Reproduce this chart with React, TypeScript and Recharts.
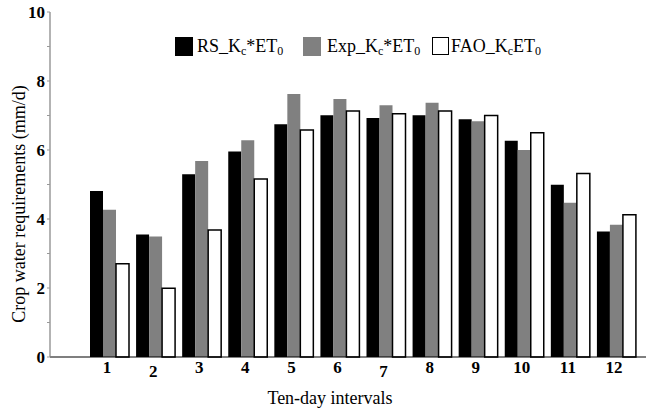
import React from "react";
import { BarChart, Bar, XAxis, YAxis, Label } from "recharts";

const intervals = ["1", "2", "3", "4", "5", "6", "7", "8", "9", "10", "11", "12"];
const rsKcEt0 = [4.81, 3.55, 5.3, 5.96, 6.75, 7.01, 6.93, 7.01, 6.89, 6.27, 4.99, 3.64];
const expKcEt0 = [4.27, 3.49, 5.68, 6.28, 7.62, 7.48, 7.3, 7.37, 6.83, 6.0, 4.47, 3.83];
const faoKcEt0 = [2.7, 1.99, 3.68, 5.16, 6.58, 7.13, 7.05, 7.13, 7.0, 6.5, 5.32, 4.12];
const yTicks = [0, 1, 2, 3, 4, 5, 6, 7, 8, 9, 10];
const topTicks = [1, 2, 3, 4, 5, 6, 7, 8, 9, 10, 11, 12];

const data = intervals.map((interval, i) => ({
  interval,
  rs: rsKcEt0[i],
  exp: expKcEt0[i],
  fao: faoKcEt0[i],
}));

const serif = "'Liberation Serif', 'Times New Roman', serif";

// a few labels sit a bit lower in the original
const labelDrop: Record<string, number> = { "2": 4, "7": 4 };

function XTick({ x, y, payload }: any) {
  const v = String(payload.value);
  return (
    <text
      x={x - 2}
      y={y + 16 + (labelDrop[v] || 0)}
      textAnchor="middle"
      fontFamily={serif}
      fontWeight="bold"
      fontSize={17}
      fill="#000"
    >
      {v}
    </text>
  );
}

function YTick({ x, y, payload }: any) {
  if (payload.value % 2 !== 0) return <g />;
  return (
    <text
      x={x}
      y={y + 6}
      textAnchor="end"
      fontFamily={serif}
      fontWeight="bold"
      fontSize={17}
      fill="#000"
    >
      {payload.value}
    </text>
  );
}

function LegendSwatch({ left, color, outline }: { left: number; color: string; outline?: boolean }) {
  return (
    <div
      style={{
        position: "absolute",
        left,
        top: 37,
        width: outline ? 15 : 18,
        height: outline ? 16 : 19,
        background: color,
        border: outline ? "1.5px solid #000" : "none",
      }}
    />
  );
}

const subStyle: React.CSSProperties = { fontSize: 12, verticalAlign: "-3px", lineHeight: 1 };

function LegendText({ left, prefix, mid }: { left: number; prefix: string; mid: string }) {
  return (
    <div
      style={{
        position: "absolute",
        left,
        top: 36,
        fontFamily: serif,
        fontSize: 18,
        lineHeight: "20px",
        color: "#000",
        whiteSpace: "nowrap",
      }}
    >
      {prefix}
      <span style={subStyle}>c</span>
      {mid}
      <span style={subStyle}>0</span>
    </div>
  );
}

export default function App() {
  return (
    <div
      style={{
        position: "absolute",
        left: 0,
        top: 0,
        width: 646,
        height: 415,
        overflow: "hidden",
        background: "#fff",
      }}
    >
      <BarChart
        width={649}
        height={415}
        data={data}
        margin={{ top: 12, right: 0, left: 0, bottom: 0 }}
        barGap={0}
        barSize={13}
      >
        <XAxis
          xAxisId="cat"
          dataKey="interval"
          height={58}
          padding={{ left: 36, right: 10 }}
          axisLine={{ stroke: "#000", strokeWidth: 1.2 }}
          tickLine={false}
          tickSize={0}
          tickMargin={0}
          interval={0}
          tick={<XTick />}
        >
          <Label
            content={() => (
              <text x={330} y={404} textAnchor="middle" fontFamily={serif} fontSize={18} fill="#000">
                Ten-day intervals
              </text>
            )}
          />
        </XAxis>
        <XAxis
          xAxisId="top"
          orientation="top"
          type="number"
          domain={[0, 13]}
          allowDataOverflow
          ticks={topTicks}
          height={0}
          mirror
          tickSize={3}
          axisLine={{ stroke: "#222", strokeWidth: 1.2 }}
          tickLine={{ stroke: "#222" }}
          tick={() => <g />}
        />
        <YAxis
          domain={[0, 10]}
          ticks={yTicks}
          interval={0}
          width={50}
          tickSize={3}
          tickMargin={2}
          axisLine={{ stroke: "#808080", strokeWidth: 1.2 }}
          tickLine={{ stroke: "#999" }}
          tick={<YTick />}
        >
          <Label
            content={() => (
              <text
                x={19}
                y={204}
                transform="rotate(-90 19 204)"
                textAnchor="middle"
                dominantBaseline="central"
                fontFamily={serif}
                fontSize={18}
                fill="#000"
              >
                Crop water requirements (mm/d)
              </text>
            )}
          />
        </YAxis>
        <Bar xAxisId="cat" dataKey="rs" fill="#000" isAnimationActive={false} />
        <Bar xAxisId="cat" dataKey="exp" fill="#808080" isAnimationActive={false} />
        <Bar
          xAxisId="cat"
          dataKey="fao"
          fill="#fff"
          stroke="#000"
          strokeWidth={1.5}
          isAnimationActive={false}
        />
      </BarChart>
      <LegendSwatch left={175} color="#000" />
      <LegendText left={197} prefix="RS_K" mid="*ET" />
      <LegendSwatch left={303} color="#808080" />
      <LegendText left={327} prefix="Exp_K" mid="*ET" />
      <LegendSwatch left={432} color="#fff" outline />
      <LegendText left={451} prefix="FAO_K" mid="ET" />
    </div>
  );
}
